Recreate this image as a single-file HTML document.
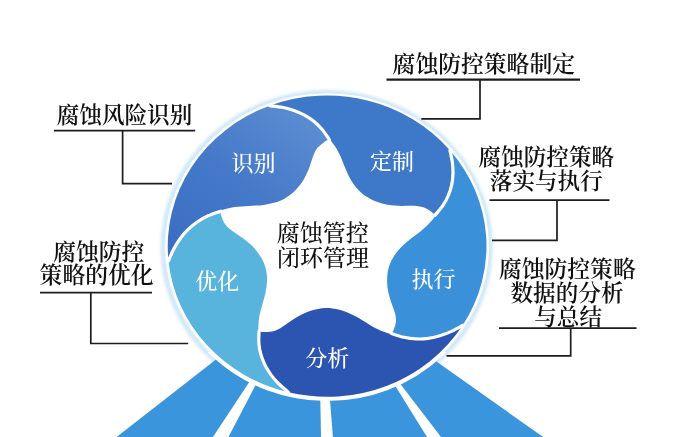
<!DOCTYPE html>
<html lang="zh-CN"><head><meta charset="utf-8"><title>腐蚀管控闭环管理</title>
<style>
html,body{margin:0;padding:0;background:#fff;}
body{width:676px;height:437px;overflow:hidden;position:relative;}
svg{will-change:transform;position:absolute;left:0;top:0;display:block;}
text{font-family:"Liberation Serif","Noto Serif CJK SC",serif;}
.lb{font-size:22.6px;font-weight:600;fill:#111;}
.wt{font-size:22px;font-weight:500;fill:#fff;}
.ct{font-size:23px;font-weight:500;fill:#111;}
.ln{stroke:#1c1c1c;stroke-width:1.7;fill:none;}
</style></head><body>
<svg width="676" height="437" viewBox="0 0 676 437">
<defs>
<filter id="gl" x="-10%" y="-10%" width="120%" height="120%"><feGaussianBlur stdDeviation="1.8"/></filter>
<linearGradient id="g1" x1="0.9" y1="0" x2="0.1" y2="1"><stop offset="0" stop-color="#5d8fd2"/><stop offset="0.55" stop-color="#4478c8"/><stop offset="1" stop-color="#3b6ec2"/></linearGradient>
<clipPath id="cb"><rect x="0" y="352" width="676" height="90"/></clipPath>
</defs>
<rect width="676" height="437" fill="#fff"/>
<!-- glow -->
<ellipse cx="326.6" cy="247.39999999999998" rx="163.4" ry="154.6" fill="none" stroke="#d0e8f8" stroke-width="5.5" filter="url(#gl)"/>
<!-- rays -->
<polygon points="319.4,278.7 111.5,441 548.8,441" fill="#3a95dc"/>
<polygon points="250.6,380 258.2,380 226.4,441 210.3,441" fill="#fff"/>
<polygon points="320.2,395 329.6,395 333.2,441 321.1,441" fill="#fff"/>
<polygon points="391.6,380 397.3,380 444.1,441 429.5,441" fill="#fff"/>
<ellipse cx="327.1" cy="246.2" rx="161.4" ry="152.6" fill="#fff" stroke="#fff" stroke-width="4.4" clip-path="url(#cb)"/>
<ellipse cx="327.1" cy="246.2" rx="160.6" ry="151.79999999999998" fill="#fff" stroke="#fff" stroke-width="2.4"/>
<!-- segments -->
<path d="M168.5,260.9A159.4,150.6 0 0 1 269.7,105.7C271.8,106.0 278.3,106.5 282.3,107.3C286.3,108.1 290.2,109.1 293.9,110.4C297.6,111.7 301.2,113.3 304.5,115.1C307.9,116.9 311.1,119.1 314.1,121.5C317.0,123.9 319.8,126.7 322.4,129.7C325.0,132.8 328.3,138.2 329.5,139.9L327.1,246.2L220.8,211.2C218.7,212.0 212.1,214.0 208.2,215.8C204.2,217.6 200.6,219.7 197.2,222.0C193.8,224.3 190.8,226.9 187.9,229.7C185.0,232.5 182.4,235.6 180.1,238.8C177.7,242.1 175.6,245.6 173.6,249.3C171.7,252.9 169.3,259.0 168.5,260.9Z" fill="url(#g1)"/>
<path d="M269.7,105.7A159.4,150.6 0 0 1 449.9,150.2C450.3,152.2 451.8,158.2 452.3,162.1C452.8,166.0 453.1,169.9 453.0,173.6C452.9,177.4 452.5,181.1 451.7,184.8C450.9,188.4 449.8,192.0 448.3,195.5C446.9,199.0 445.0,202.4 442.8,205.7C440.5,209.1 436.1,213.8 434.8,215.5L327.1,246.2L329.5,139.9C328.3,138.2 325.0,132.8 322.4,129.7C319.8,126.7 317.0,123.9 314.1,121.5C311.1,119.1 307.9,116.9 304.5,115.1C301.2,113.3 297.6,111.7 293.9,110.4C290.2,109.1 286.3,108.1 282.3,107.3C278.3,106.5 271.8,106.0 269.7,105.7Z" fill="#3e78c8"/>
<path d="M449.9,150.2A159.4,150.6 0 0 1 462.7,325.3C460.8,326.4 455.2,329.7 451.4,331.4C447.6,333.2 443.8,334.7 439.9,335.8C436.0,337.0 432.1,337.8 428.2,338.4C424.2,338.9 420.2,339.1 416.2,338.9C412.1,338.8 408.0,338.3 403.9,337.3C399.7,336.4 393.4,334.1 391.3,333.5L327.1,246.2L434.8,215.5C436.1,213.8 440.5,209.1 442.8,205.7C445.0,202.4 446.9,199.0 448.3,195.5C449.8,192.0 450.9,188.4 451.7,184.8C452.5,181.1 452.9,177.4 453.0,173.6C453.1,169.9 452.8,166.0 452.3,162.1C451.8,158.2 450.3,152.2 449.9,150.2Z" fill="#3a90d9"/>
<path d="M462.7,325.3A159.4,150.6 0 0 1 288.5,392.3C287.0,390.9 281.9,386.9 279.0,384.0C276.1,381.2 273.5,378.2 271.2,375.1C268.9,371.9 266.8,368.7 265.1,365.3C263.4,361.9 262.0,358.4 261.0,354.7C259.9,351.1 259.2,347.3 258.9,343.3C258.6,339.3 259.0,332.9 259.1,330.9L327.1,246.2L391.3,333.5C393.4,334.1 399.7,336.4 403.9,337.3C408.0,338.3 412.1,338.8 416.2,338.9C420.2,339.1 424.2,338.9 428.2,338.4C432.1,337.8 436.0,337.0 439.9,335.8C443.8,334.7 447.6,333.2 451.4,331.4C455.2,329.7 460.8,326.4 462.7,325.3Z" fill="#2c54b1"/>
<path d="M288.5,392.3A159.4,150.6 0 0 1 168.5,260.9C169.3,259.0 171.7,252.9 173.6,249.3C175.6,245.6 177.7,242.1 180.1,238.8C182.4,235.6 185.0,232.5 187.9,229.7C190.8,226.9 193.8,224.3 197.2,222.0C200.6,219.7 204.2,217.6 208.2,215.8C212.1,214.0 218.7,212.0 220.8,211.2L327.1,246.2L259.1,330.9C259.0,332.9 258.6,339.3 258.9,343.3C259.2,347.3 259.9,351.1 261.0,354.7C262.0,358.4 263.4,361.9 265.1,365.3C266.8,368.7 268.9,371.9 271.2,375.1C273.5,378.2 276.1,381.2 279.0,384.0C281.9,386.9 287.0,390.9 288.5,392.3Z" fill="#58b4dd"/>
<g stroke="#fff" stroke-width="3.2" fill="none" stroke-linecap="round">
<path d="M269.7,105.7C271.8,106.0 278.3,106.5 282.3,107.3C286.3,108.1 290.2,109.1 293.9,110.4C297.6,111.7 301.2,113.3 304.5,115.1C307.9,116.9 311.1,119.1 314.1,121.5C317.0,123.9 319.8,126.7 322.4,129.7C325.0,132.8 328.3,138.2 329.5,139.9"/><path d="M449.9,150.2C450.3,152.2 451.8,158.2 452.3,162.1C452.8,166.0 453.1,169.9 453.0,173.6C452.9,177.4 452.5,181.1 451.7,184.8C450.9,188.4 449.8,192.0 448.3,195.5C446.9,199.0 445.0,202.4 442.8,205.7C440.5,209.1 436.1,213.8 434.8,215.5"/><path d="M462.7,325.3C460.8,326.4 455.2,329.7 451.4,331.4C447.6,333.2 443.8,334.7 439.9,335.8C436.0,337.0 432.1,337.8 428.2,338.4C424.2,338.9 420.2,339.1 416.2,338.9C412.1,338.8 408.0,338.3 403.9,337.3C399.7,336.4 393.4,334.1 391.3,333.5"/><path d="M288.5,392.3C287.0,390.9 281.9,386.9 279.0,384.0C276.1,381.2 273.5,378.2 271.2,375.1C268.9,371.9 266.8,368.7 265.1,365.3C263.4,361.9 262.0,358.4 261.0,354.7C259.9,351.1 259.2,347.3 258.9,343.3C258.6,339.3 259.0,332.9 259.1,330.9"/><path d="M168.5,260.9C169.3,259.0 171.7,252.9 173.6,249.3C175.6,245.6 177.7,242.1 180.1,238.8C182.4,235.6 185.0,232.5 187.9,229.7C190.8,226.9 193.8,224.3 197.2,222.0C200.6,219.7 204.2,217.6 208.2,215.8C212.1,214.0 218.7,212.0 220.8,211.2"/>
</g>
<path d="M329.5,139.9C331.3,140.3 332.7,143.3 334.1,145.1C335.5,146.9 336.7,148.9 337.8,150.9C338.9,152.9 339.8,155.0 340.8,157.1C341.7,159.2 342.5,161.4 343.4,163.5C344.3,165.7 345.1,167.9 346.1,170.0C347.0,172.2 347.9,174.3 349.0,176.4C350.1,178.4 351.2,180.5 352.5,182.4C353.8,184.3 355.1,186.2 356.6,187.9C358.1,189.7 359.7,191.4 361.5,192.9C363.2,194.4 365.1,195.8 367.1,197.1C369.1,198.4 371.3,199.5 373.5,200.5C375.8,201.5 378.2,202.3 380.5,203.0C382.9,203.7 385.3,204.3 387.7,204.7C390.1,205.1 392.4,205.4 394.8,205.6C397.2,205.8 399.5,205.9 401.9,205.9C404.3,205.9 406.7,205.8 409.2,205.8C411.6,205.9 414.0,205.7 416.4,206.0C418.8,206.2 421.2,206.5 423.4,207.3C425.7,208.1 428.0,209.4 429.9,210.8C431.7,212.2 434.6,213.7 434.8,215.5C435.0,217.2 432.5,219.5 431.1,221.3C429.7,223.1 428.0,224.7 426.4,226.3C424.7,227.9 422.9,229.4 421.0,230.9C419.2,232.4 417.2,233.8 415.3,235.3C413.4,236.8 411.5,238.2 409.6,239.7C407.8,241.2 405.9,242.7 404.2,244.3C402.4,245.9 400.7,247.6 399.2,249.3C397.7,251.1 396.2,252.8 394.9,254.7C393.6,256.6 392.4,258.6 391.4,260.6C390.4,262.6 389.5,264.8 388.9,267.0C388.2,269.2 387.8,271.5 387.5,273.8C387.2,276.1 387.1,278.5 387.1,280.9C387.1,283.2 387.3,285.5 387.6,287.8C387.9,290.1 388.4,292.3 388.9,294.5C389.4,296.7 390.1,298.8 390.8,301.0C391.5,303.1 392.3,305.3 393.1,307.5C393.8,309.6 394.7,311.8 395.2,314.0C395.7,316.2 396.1,318.5 396.0,320.8C395.9,323.0 395.3,325.5 394.5,327.6C393.7,329.7 393.0,332.8 391.3,333.5C389.6,334.2 386.6,332.6 384.3,331.9C382.1,331.2 379.9,330.3 377.8,329.3C375.6,328.3 373.6,327.1 371.5,325.9C369.4,324.7 367.4,323.4 365.3,322.1C363.3,320.9 361.2,319.6 359.2,318.3C357.1,317.1 355.0,315.9 352.8,314.9C350.7,313.8 348.5,312.8 346.2,311.9C344.0,311.1 341.8,310.3 339.5,309.7C337.2,309.2 334.8,308.7 332.5,308.4C330.1,308.1 327.7,308.0 325.3,308.1C322.9,308.2 320.4,308.5 318.0,309.0C315.5,309.4 313.1,310.1 310.7,310.8C308.4,311.6 306.1,312.5 303.9,313.4C301.7,314.4 299.6,315.5 297.6,316.7C295.6,317.8 293.6,319.1 291.6,320.4C289.7,321.7 287.8,323.1 285.8,324.4C283.9,325.7 281.9,327.2 279.9,328.4C277.8,329.5 275.7,330.6 273.3,331.2C271.0,331.8 268.4,332.0 266.0,331.9C263.6,331.9 260.3,332.2 259.1,330.9C257.8,329.6 258.5,326.4 258.5,324.1C258.5,321.9 258.8,319.6 259.1,317.4C259.5,315.2 260.0,312.9 260.6,310.7C261.2,308.5 261.9,306.3 262.5,304.0C263.1,301.8 263.8,299.5 264.4,297.3C265.0,295.0 265.5,292.8 265.9,290.5C266.3,288.3 266.7,286.0 266.8,283.7C267.0,281.5 267.1,279.2 267.0,276.9C266.8,274.7 266.6,272.5 266.1,270.3C265.7,268.0 265.0,265.9 264.2,263.7C263.4,261.6 262.3,259.4 261.1,257.4C259.9,255.4 258.5,253.3 257.0,251.5C255.5,249.6 253.9,247.8 252.3,246.1C250.6,244.5 248.9,242.9 247.1,241.5C245.3,240.0 243.4,238.6 241.5,237.3C239.6,235.9 237.6,234.6 235.6,233.3C233.7,231.9 231.6,230.7 229.8,229.1C228.0,227.6 226.3,226.0 225.0,224.1C223.7,222.3 222.6,219.9 221.9,217.8C221.3,215.6 219.9,212.8 220.8,211.2C221.8,209.7 225.2,209.3 227.5,208.6C229.7,208.0 232.1,207.5 234.4,207.1C236.8,206.8 239.2,206.6 241.6,206.4C244.0,206.2 246.5,206.1 248.9,206.0C251.4,205.9 253.8,205.8 256.3,205.6C258.7,205.5 261.2,205.3 263.6,204.9C266.0,204.6 268.4,204.2 270.7,203.6C273.0,203.1 275.3,202.5 277.6,201.7C279.8,200.9 282.0,199.9 284.0,198.9C286.1,197.8 288.1,196.5 290.0,195.1C291.9,193.7 293.8,192.0 295.4,190.3C297.1,188.6 298.7,186.7 300.1,184.8C301.6,182.9 302.9,180.9 304.0,178.9C305.2,176.9 306.2,174.9 307.1,172.8C308.1,170.7 308.9,168.6 309.7,166.5C310.4,164.4 311.1,162.2 311.8,160.0C312.6,157.8 313.2,155.6 314.2,153.5C315.2,151.4 316.2,149.4 317.7,147.6C319.2,145.8 321.3,144.2 323.2,142.9C325.2,141.6 327.6,139.6 329.5,139.9Z" fill="#fff"/>
<!-- connector lines -->
<path class="ln" d="M54,130.7H195.2M122.6,130.7V183.6H172"/>
<path class="ln" d="M40,292.6H152M90.8,292.6V343.5H188.2"/>
<path class="ln" d="M386.5,79.7H580" style="stroke-width:2.2"/><path class="ln" d="M480,79.8V118.9H421.3"/>
<path class="ln" d="M489.5,200.1H609.5M557,200.1V240.4H492"/>
<path class="ln" d="M499,328.2H636.5M570.7,328.2V355.9H446.5"/>
<!-- labels -->
<text class="lb" x="124.5" y="123" text-anchor="middle">腐蚀风险识别</text>
<text class="lb" x="98.8" y="259.5" text-anchor="middle" style="font-size:22.8px">腐蚀防控</text>
<text class="lb" x="96.6" y="283" text-anchor="middle" style="font-size:22.8px">策略的优化</text>
<text class="lb" x="483.8" y="71.6" text-anchor="middle" style="font-size:22.8px">腐蚀防控策略制定</text>
<text class="lb" x="546.3" y="164.5" text-anchor="middle">腐蚀防控策略</text>
<text class="lb" x="546.3" y="189" text-anchor="middle">落实与执行</text>
<text class="lb" x="567.3" y="277" text-anchor="middle" style="font-size:22.8px">腐蚀防控策略</text>
<text class="lb" x="567" y="301" text-anchor="middle">数据的分析</text>
<text class="lb" x="568.1" y="324.5" text-anchor="middle">与总结</text>
<text class="wt" x="253.6" y="171.2" text-anchor="middle">识别</text>
<text class="wt" x="392" y="169.2" text-anchor="middle">定制</text>
<text class="wt" x="433.6" y="286.5" text-anchor="middle">执行</text>
<text class="wt" x="327.2" y="365.6" text-anchor="middle">分析</text>
<text class="wt" x="217.3" y="289.2" text-anchor="middle">优化</text>
<text class="ct" x="322.7" y="240.8" text-anchor="middle">腐蚀管控</text>
<text class="ct" x="322.9" y="266" text-anchor="middle">闭环管理</text>
</svg>
</body></html>
